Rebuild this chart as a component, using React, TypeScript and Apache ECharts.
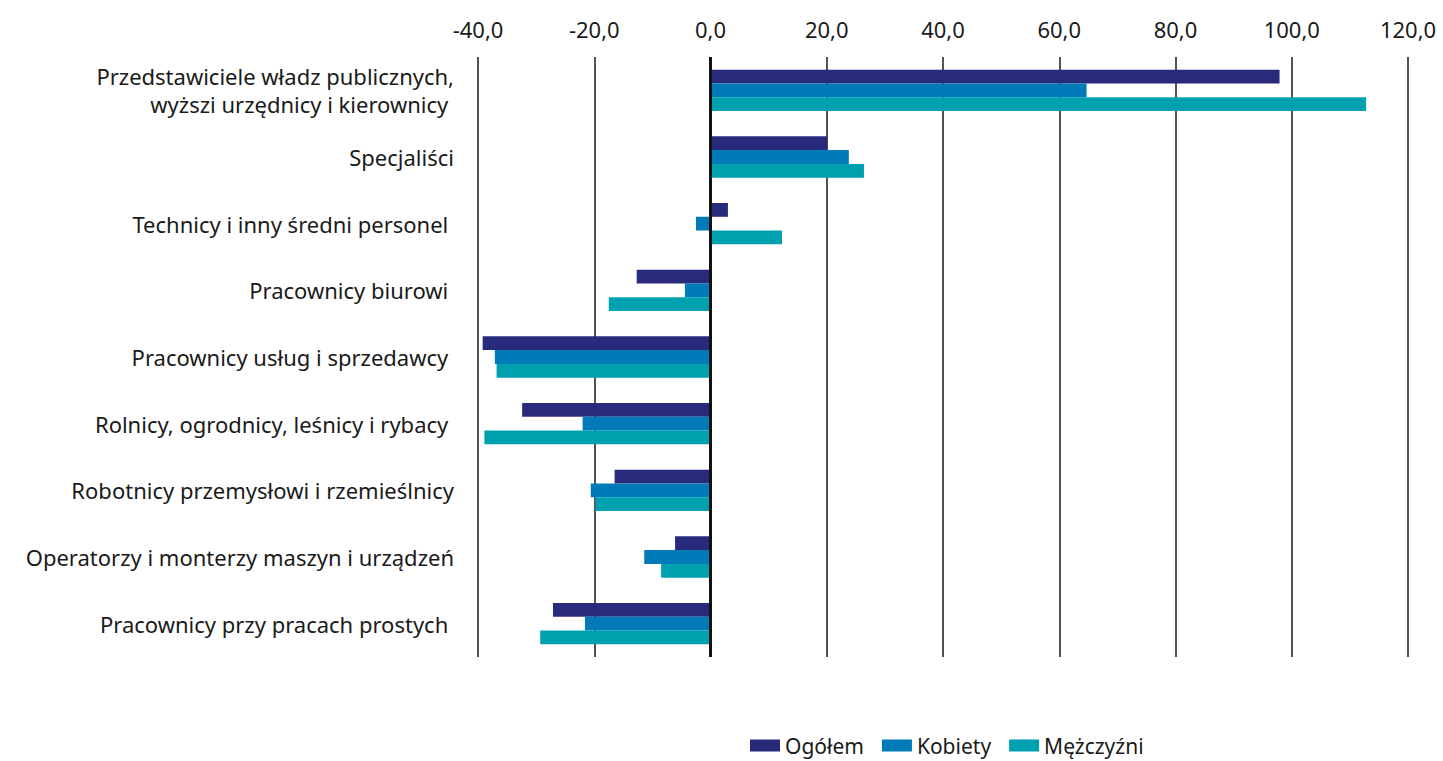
import React, { useEffect, useRef } from "react";
import * as echarts from "echarts";

const categories = [
  "Przedstawiciele władz publicznych,\nwyższi urzędnicy i kierownicy ",
  "Specjaliści",
  "Technicy i inny średni personel ",
  "Pracownicy biurowi ",
  "Pracownicy usług i sprzedawcy ",
  "Rolnicy, ogrodnicy, leśnicy i rybacy ",
  "Robotnicy przemysłowi i rzemieślnicy",
  "Operatorzy i monterzy maszyn i urządzeń",
  "Pracownicy przy pracach prostych ",
];

const ogolem = [97.9, 20.1, 3.0, -12.7, -39.2, -32.4, -16.5, -6.1, -27.1];
const kobiety = [64.7, 23.8, -2.5, -4.4, -37.1, -22.0, -20.6, -11.4, -21.6];
const mezczyzni = [112.8, 26.4, 12.3, -17.5, -36.8, -38.9, -19.8, -8.5, -29.3];

const seriesNames = ["Ogółem", "Kobiety", "Mężczyźni"];
const seriesColors = ["#282B7C", "#007BB8", "#00A1AF"];

const FONT = "'Noto Sans', sans-serif";

export default function App() {
  const ref = useRef<HTMLDivElement>(null);

  useEffect(() => {
    if (!ref.current) return;
    const chart = echarts.init(ref.current, undefined, { renderer: "svg" });
    const data = [ogolem, kobiety, mezczyzni];
    chart.setOption({
      animation: false,
      textStyle: { fontFamily: FONT },
      grid: { left: 478, right: 35, top: 57, bottom: 104, containLabel: false },
      legend: {
        bottom: 0,
        left: 745,
        itemWidth: 30,
        itemHeight: 12,
        itemGap: 18,
        icon: "rect",
        textStyle: { fontSize: 21, color: "#1a1a1a", fontFamily: FONT },
        data: seriesNames,
      },
      xAxis: {
        type: "value",
        position: "top",
        min: -40,
        max: 120,
        interval: 20,
        axisLine: { show: false },
        axisTick: { show: false },
        axisLabel: {
          fontSize: 22,
          color: "#1a1a1a",
          margin: 17,
          formatter: (v: number) => v.toFixed(1).replace(".", ","),
        },
        splitLine: { show: true, lineStyle: { color: "#1a1a1a", width: 1.5 } },
      },
      yAxis: {
        type: "category",
        inverse: true,
        data: categories,
        axisLine: { show: false },
        axisTick: { show: false },
        axisLabel: {
          fontSize: 22,
          color: "#1a1a1a",
          margin: 24,
          lineHeight: 28,
          align: "right",
        },
      },
      series: data.map((d, i) => ({
        name: seriesNames[i],
        type: "bar",
        data: d,
        barGap: "0%",
        barCategoryGap: "38%",
        itemStyle: { color: seriesColors[i] },
        markLine:
          i === 0
            ? {
                silent: true,
                symbol: "none",
                label: { show: false },
                lineStyle: { color: "#111", width: 3, type: "solid" },
                data: [{ xAxis: 0 }],
                z: 10,
              }
            : undefined,
      })),
    });
    return () => chart.dispose();
  }, []);

  return (
    <div
      ref={ref}
      style={{ position: "fixed", left: 0, top: 0, width: 1443, height: 761, background: "#fff" }}
    />
  );
}
